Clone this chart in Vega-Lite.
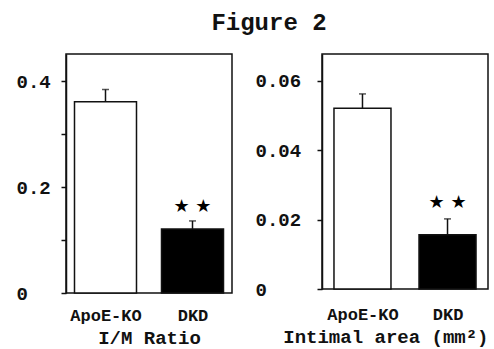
{
  "$schema": "https://vega.github.io/schema/vega-lite/v6.json",
  "padding": {"left": 15, "top": 11, "right": 0, "bottom": 0},
  "background": "white",
  "title": {"text": "Figure 2", "font": "Liberation Mono", "fontSize": 24, "fontWeight": "bold", "anchor": "middle", "offset": 18, "dx": 17, "color": "#111"},
  "datasets": {
    "im": [
      {"group": "ApoE-KO", "mean": 0.361, "upper": 0.384, "sig": ""},
      {"group": "DKD", "mean": 0.121, "upper": 0.136, "sig": "★ ★"}
    ],
    "area": [
      {"group": "ApoE-KO", "mean": 0.0521, "upper": 0.0562, "sig": ""},
      {"group": "DKD", "mean": 0.0156, "upper": 0.0202, "sig": "★ ★"}
    ]
  },
  "bounds": "flush",
  "spacing": 90,
  "hconcat": [
    {
      "width": 166,
      "height": 239,
      "data": {"name": "im"},
      "encoding": {
        "x": {"field": "group", "type": "nominal", "sort": null, "scale": {"type": "point", "padding": 0.454},
              "axis": {"title": "I/M Ratio", "labelPadding": 14, "titlePadding": 5}}
      },
      "layer": [
        {"mark": {"type": "bar", "size": 62, "stroke": "#111", "strokeWidth": 1.5},
         "encoding": {
           "y": {"field": "mean", "type": "quantitative", "scale": {"domain": [0, 0.451], "nice": false},
                 "axis": {"title": null, "values": [0, 0.1, 0.2, 0.3, 0.4], "labelPadding": 45,
                          "labelExpr": "datum.value == 0 ? '0' : (abs(datum.value - 0.1) < 1e-6 || abs(datum.value - 0.3) < 1e-6) ? '' : format(datum.value, '.1f')"}},
           "fill": {"field": "group", "type": "nominal", "scale": {"domain": ["ApoE-KO", "DKD"], "range": ["white", "black"]}, "legend": null}
         }},
        {"mark": {"type": "rule", "strokeWidth": 1.5, "color": "#111"},
         "encoding": {"y": {"field": "mean", "type": "quantitative"}, "y2": {"field": "upper"}}},
        {"mark": {"type": "tick", "size": 7, "thickness": 1.5, "orient": "horizontal", "color": "#111"},
         "encoding": {"y": {"field": "upper", "type": "quantitative"}}},
        {"transform": [{"filter": "datum.sig != ''"}],
         "mark": {"type": "text", "dy": -14, "fontSize": 18, "font": "DejaVu Sans", "color": "#000"},
         "encoding": {"y": {"field": "upper", "type": "quantitative"}, "text": {"field": "sig"}}}
      ]
    },
    {
      "width": 166,
      "height": 235,
      "data": {"name": "area"},
      "encoding": {
        "x": {"field": "group", "type": "nominal", "sort": null, "scale": {"type": "point", "padding": 0.476},
              "axis": {"title": "Intimal area (mm²)", "titleAnchor": "end", "labelPadding": 17, "titlePadding": 5}}
      },
      "layer": [
        {"mark": {"type": "bar", "size": 57, "stroke": "#111", "strokeWidth": 1.5},
         "encoding": {
           "y": {"field": "mean", "type": "quantitative", "scale": {"domain": [0, 0.0677], "nice": false},
                 "axis": {"title": null, "values": [0, 0.02, 0.04, 0.06], "labelPadding": 62,
                          "labelExpr": "datum.value == 0 ? '0' : format(datum.value, '.2f')"}},
           "fill": {"field": "group", "type": "nominal", "scale": {"domain": ["ApoE-KO", "DKD"], "range": ["white", "black"]}, "legend": null}
         }},
        {"mark": {"type": "rule", "strokeWidth": 1.5, "color": "#111"},
         "encoding": {"y": {"field": "mean", "type": "quantitative"}, "y2": {"field": "upper"}}},
        {"mark": {"type": "tick", "size": 7, "thickness": 1.5, "orient": "horizontal", "color": "#111"},
         "encoding": {"y": {"field": "upper", "type": "quantitative"}}},
        {"transform": [{"filter": "datum.sig != ''"}],
         "mark": {"type": "text", "dy": -16, "fontSize": 18, "font": "DejaVu Sans", "color": "#000"},
         "encoding": {"y": {"field": "upper", "type": "quantitative"}, "text": {"field": "sig"}}}
      ]
    }
  ],
  "resolve": {"scale": {"fill": "independent"}},
  "config": {
    "view": {"stroke": "#111", "strokeWidth": 1.5},
    "axisY": {
      "grid": false, "domainColor": "#111", "domainWidth": 1.5, "tickColor": "#111", "tickWidth": 1.5, "tickSize": 5,
      "labelAlign": "left", "labelBaseline": "middle", "labelFont": "Liberation Mono", "labelFontSize": 19,
      "labelFontWeight": "bold", "labelColor": "#111"
    },
    "axisX": {
      "grid": false, "domain": false, "ticks": false, "labelAngle": 0,
      "labelFont": "Liberation Mono", "labelFontSize": 17, "labelFontWeight": "bold", "labelColor": "#111",
      "titleFont": "Liberation Mono", "titleFontSize": 19, "titleFontWeight": "bold", "titleColor": "#111"
    }
  }
}
